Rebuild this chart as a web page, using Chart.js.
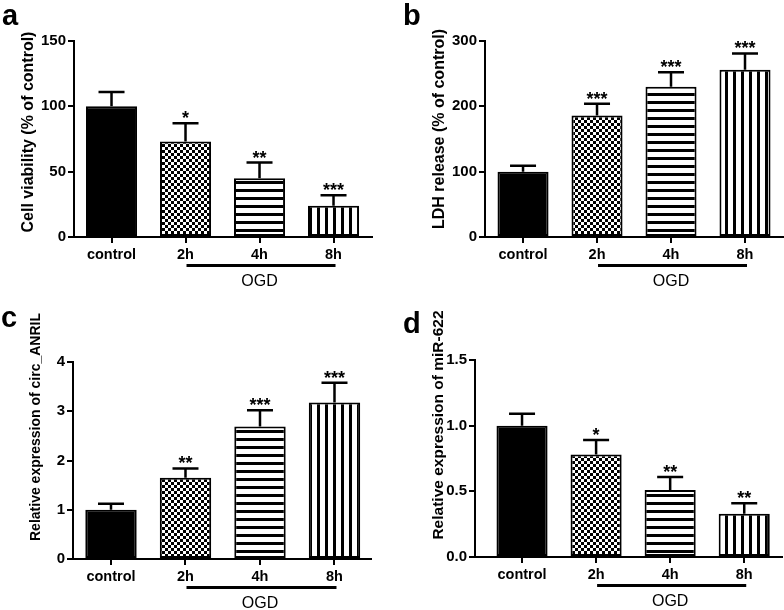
<!DOCTYPE html>
<html>
<head>
<meta charset="utf-8">
<script src="https://cdn.jsdelivr.net/npm/chart.js@4/dist/chart.umd.min.js"></script>
<style>
body { margin: 0; background: #fff; }
#wrap { position: relative; width: 784px; height: 610px; }
canvas { position: absolute; }
</style>
</head>
<body>
<div id="wrap">
  <canvas id="panel-a" width="392" height="305" style="left:0;top:0"></canvas>
  <canvas id="panel-b" width="392" height="305" style="left:392px;top:0"></canvas>
  <canvas id="panel-c" width="392" height="305" style="left:0;top:305px"></canvas>
  <canvas id="panel-d" width="392" height="305" style="left:392px;top:305px"></canvas>
</div>
<script>
// data
var categories = ['control', '2h', '4h', '8h'];
var groupLabel = 'OGD';

var viability = [100, 73, 45, 24];
var viabilityErr = [11, 14, 12, 8];
var viabilityStars = ['', '*', '**', '***'];

var ldh = [100, 186, 230, 256];
var ldhErr = [9, 18, 22, 25];
var ldhStars = ['', '***', '***', '***'];

var circ = [1.0, 1.65, 2.69, 3.18];
var circErr = [0.12, 0.19, 0.33, 0.40];
var circStars = ['', '**', '***', '***'];

var mir = [1.0, 0.78, 0.51, 0.33];
var mirErr = [0.09, 0.11, 0.10, 0.08];
var mirStars = ['', '*', '**', '**'];

var FONT = '"Liberation Sans", Arial, sans-serif';
Chart.defaults.font.family = FONT;
Chart.defaults.font.weight = 'bold';
Chart.defaults.color = '#000';

function makePattern(kind) {
    var c = document.createElement('canvas');
    var g = c.getContext('2d');
    c.width = kind == 'checker' ? 6 : 8;
    c.height = kind == 'checker' ? 6 : 8;
    g.fillStyle = '#fff';
    g.fillRect(0, 0, c.width, c.height);
    g.fillStyle = '#000';
    if (kind == 'checker') {
        g.fillRect(0, 0, 3, 3);
        g.fillRect(3, 3, 3, 3);
    } else if (kind == 'hlines') {
        g.fillRect(0, 5, 8, 3);
    } else {
        g.fillRect(5, 0, 3, 8);
    }
    return g.createPattern(c, 'repeat');
}
var fills = ['#000', makePattern('checker'), makePattern('hlines'), makePattern('vlines')];

// error bars, stars, OGD bracket, panel letter, rotated y title
var decor = {
    id: 'decor',
    afterDatasetsDraw: function(chart, args, o) {
        var ctx = chart.ctx;
        var xs = chart.scales.x, ys = chart.scales.y;
        var area = chart.chartArea;
        ctx.save();
        ctx.strokeStyle = '#000';
        ctx.fillStyle = '#000';
        ctx.lineWidth = 2.5;
        for (let i = 0; i < o.values.length; i++) {
            var px = xs.getPixelForValue(i);
            var top = ys.getPixelForValue(o.values[i]);
            var et = ys.getPixelForValue(o.values[i] + o.errs[i]);
            ctx.beginPath();
            ctx.moveTo(px, top);
            ctx.lineTo(px, et);
            ctx.moveTo(px - 13, et);
            ctx.lineTo(px + 13, et);
            ctx.stroke();
            if (o.stars[i]) {
                ctx.font = 'bold 18px ' + FONT;
                ctx.textAlign = 'center';
                ctx.textBaseline = 'alphabetic';
                ctx.fillText(o.stars[i], px, et + 1);
            }
        }
        var x1 = xs.getPixelForValue(1), x3 = xs.getPixelForValue(3);
        ctx.lineWidth = 3;
        ctx.beginPath();
        ctx.moveTo(x1 + 1, area.bottom + 28.5);
        ctx.lineTo(x3 + 2, area.bottom + 28.5);
        ctx.stroke();
        ctx.font = '16px ' + FONT;
        ctx.textAlign = 'center';
        ctx.textBaseline = 'middle';
        ctx.fillText(groupLabel, (x1 + x3) / 2, area.bottom + 45);

        ctx.font = 'bold 29px ' + FONT;
        ctx.textAlign = 'left';
        ctx.textBaseline = 'alphabetic';
        ctx.fillText(o.letter, o.letterX, o.letterY);

        ctx.translate(o.titleX, o.titleY);
        ctx.rotate(-Math.PI / 2);
        ctx.font = 'bold ' + o.titleSize + 'px ' + FONT;
        ctx.textAlign = 'center';
        ctx.textBaseline = 'middle';
        ctx.fillText(o.title, 0, 0);
        ctx.restore();
    }
};

function drawPanel(id, p) {
    var ctx = document.getElementById(id).getContext('2d');
    return new Chart(ctx, {
        type: 'bar',
        data: {
            datasets: [{
                data: p.values.map(function(v, i) { return { x: i, y: v }; }),
                backgroundColor: fills,
                borderColor: '#000',
                borderWidth: 2,
                borderSkipped: false,
                barPercentage: 0.69,
                categoryPercentage: 1,
            }, ],
        },
        options: {
            responsive: false,
            animation: false,
            events: [],
            layout: { padding: { left: 0, top: p.top, right: p.right, bottom: 0 } },
            plugins: {
                legend: { display: false },
                tooltip: { enabled: false },
                decor: p,
            },
            scales: {
                x: {
                    type: 'linear',
                    offset: false,
                    min: p.xMin,
                    max: p.xMax,
                    afterBuildTicks: function(s) {
                        s.ticks = categories.map(function(c, i) { return { value: i }; });
                    },
                    afterFit: function(s) { s.height = p.xHeight; },
                    ticks: {
                        font: { size: 14.5, weight: 'bold' },
                        padding: 3,
                        maxRotation: 0,
                        autoSkip: false,
                        callback: function(v) { return categories[v]; },
                    },
                    grid: { offset: false, drawOnChartArea: false, tickLength: 6, color: '#000', lineWidth: 2 },
                    border: { color: '#000', width: 2 },
                },
                y: {
                    min: 0,
                    max: p.yMax,
                    afterFit: function(s) { s.width = p.axisW; },
                    ticks: {
                        stepSize: p.step,
                        font: { size: 15, weight: 'bold' },
                        padding: 2,
                        callback: function(v) { return p.decimals ? v.toFixed(p.decimals) : v; },
                    },
                    grid: { drawOnChartArea: false, tickLength: 6, color: '#000', lineWidth: 2 },
                    border: { color: '#000', width: 2 },
                },
            },
        },
        plugins: [decor],
    });
}

drawPanel('panel-a', {
    values: viability, errs: viabilityErr, stars: viabilityStars,
    letter: 'a', letterX: 2, letterY: 25,
    title: 'Cell viability (% of control)', titleX: 29, titleY: 132, titleSize: 16,
    yMax: 150, step: 50, axisW: 74, top: 41, right: 20, xHeight: 68,
    xMin: -0.507, xMax: 3.52,
});
drawPanel('panel-b', {
    values: ldh, errs: ldhErr, stars: ldhStars,
    letter: 'b', letterX: 11, letterY: 25,
    title: 'LDH release (% of control)', titleX: 48, titleY: 129, titleSize: 16,
    yMax: 300, step: 100, axisW: 93, top: 41, right: 0, xHeight: 68,
    xMin: -0.514, xMax: 3.527,
});
drawPanel('panel-c', {
    values: circ, errs: circErr, stars: circStars,
    letter: 'c', letterX: 1, letterY: 22,
    title: 'Relative expression of circ_ANRIL', titleX: 36, titleY: 122, titleSize: 14,
    yMax: 4, step: 1, axisW: 73, top: 57, right: 21, xHeight: 51,
    xMin: -0.51, xMax: 3.49,
});
drawPanel('panel-d', {
    values: mir, errs: mirErr, stars: mirStars,
    letter: 'd', letterX: 11, letterY: 28,
    title: 'Relative expression of miR-622', titleX: 47, titleY: 120, titleSize: 15.5,
    yMax: 1.5, step: 0.5, decimals: 1, axisW: 83, top: 55, right: 2, xHeight: 53,
    xMin: -0.635, xMax: 3.51,
});
</script>
</body>
</html>
